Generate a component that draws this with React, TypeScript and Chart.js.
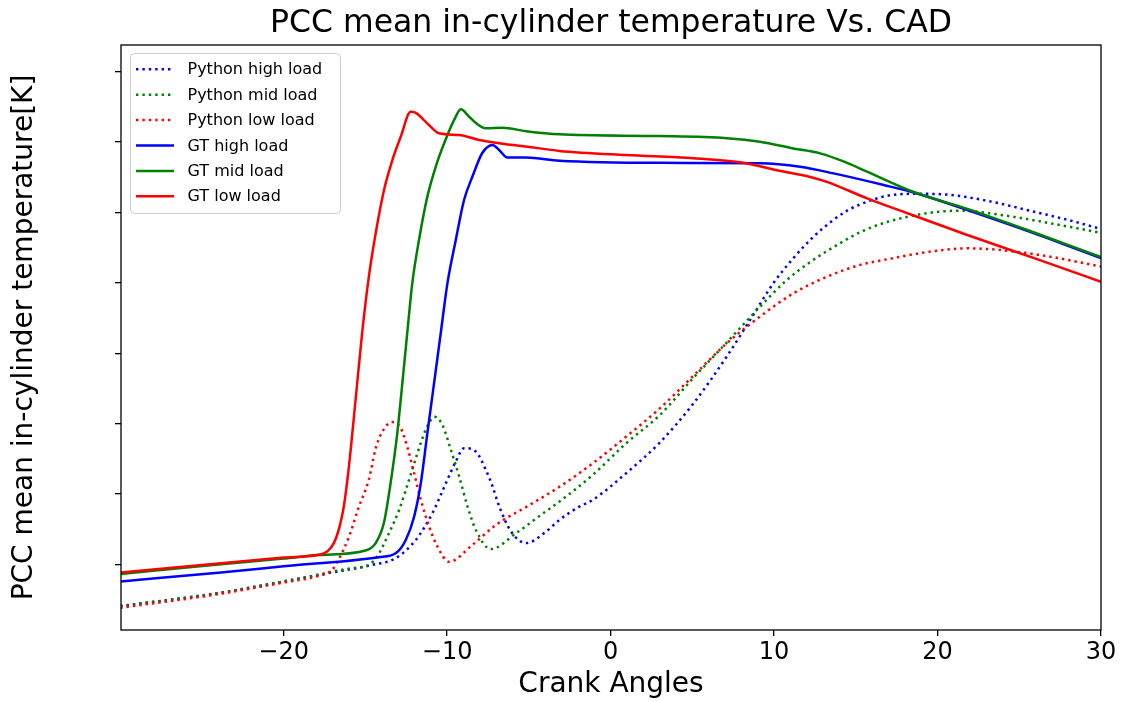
import React, { useEffect, useRef } from 'react';
import { Chart, registerables } from 'chart.js';

Chart.register(...registerables);

const FONT = "'DejaVu Sans', 'Liberation Sans', sans-serif";

const chartTitle = 'PCC mean in-cylinder temperature Vs. CAD';
const xTitle = 'Crank Angles';
const yTitle = 'PCC mean in-cylinder temperature[K]';

const xTicks = [-20, -10, 0, 10, 20, 30];
const yTicks = [800, 1000, 1200, 1400, 1600, 1800, 2000, 2200];

const seriesLabels = [
  'Python high load',
  'Python mid load',
  'Python low load',
  'GT high load',
  'GT mid load',
  'GT low load',
];

// Python high load
const pyHighX = [-30, -24, -20, -17.85, -14.58, -13.15, -11.92, -10.9, -10.08, -9.47, -8.96, -8.24, -7.63, -7.22, -6.81, -6.09, -5.17, -3.94, -3.13, -2.01, -1.09, 0.96, 3.01, 5.05, 7.1, 8.73, 9.96, 11.18, 12.41, 13.64, 14.5, 15.28, 16.09, 17.12, 18.75, 20.18, 22.84, 25.91, 27.96, 30];
const pyHighY = [681, 718, 751, 770, 798, 817, 869, 945, 1030, 1092, 1130, 1120, 1068, 1021, 964, 893, 860, 893, 926, 961, 983, 1059, 1146, 1256, 1390, 1509, 1599, 1670, 1731, 1779, 1806, 1823, 1837, 1849, 1853, 1852, 1835, 1802, 1779, 1753];

// Python mid load
const pyMidX = [-30, -24, -20, -17.85, -17.03, -15.8, -14.79, -14.28, -13.56, -12.94, -12.33, -11.82, -11.31, -10.77, -10.29, -9.77, -9.26, -8.75, -8.24, -7.32, -5.79, -4.15, -3.13, -1.09, 0.96, 3.01, 5.05, 7.1, 9.14, 10.78, 12.21, 14.05, 15.28, 16.71, 19.37, 21.41, 23.87, 26.93, 30];
const pyMidY = [681, 718, 751, 770, 779, 789, 798, 822, 888, 954, 1040, 1115, 1182, 1219, 1196, 1125, 1049, 964, 897, 843, 888, 944, 978, 1054, 1144, 1224, 1329, 1430, 1532, 1608, 1659, 1713, 1744, 1770, 1798, 1805, 1793, 1769, 1742];

// Python low load
const pyLowX = [-30, -24, -20, -17.85, -17.03, -16.63, -16.01, -15.4, -14.79, -14.36, -13.86, -13.35, -12.84, -12.44, -12.02, -11.61, -11.1, -10.6, -9.88, -8.45, -7.01, -4.97, -3.13, -1.09, 0.96, 3.01, 5.05, 7.1, 9.14, 11.18, 13.23, 15.28, 16.71, 19.77, 21.82, 23.87, 26.93, 30];
const pyLowY = [676, 715, 748, 767, 784, 814, 877, 963, 1040, 1131, 1185, 1204, 1187, 1134, 1059, 983, 907, 851, 807, 855, 912, 968, 1020, 1087, 1163, 1243, 1335, 1428, 1504, 1570, 1617, 1651, 1665, 1690, 1698, 1693, 1674, 1646];

// GT high load
const gtHighX = [-30, -24, -20, -14.17, -13.15, -12.53, -12.02, -11.61, -11.21, -10.8, -10.39, -9.98, -9.47, -8.96, -8.45, -7.85, -7.22, -6.81, -6.32, -5.17, -3.13, 3.01, 9.14, 11.6, 13.64, 16.71, 18.75, 21.82, 25.91, 30];
const gtHighY = [751, 776, 794, 820, 831, 869, 935, 1030, 1172, 1314, 1457, 1599, 1722, 1836, 1902, 1969, 1992, 1977, 1956, 1956, 1947, 1941, 1940, 1930, 1911, 1878, 1854, 1807, 1741, 1670];

// GT mid load
const gtMidX = [-30, -24, -20, -17.85, -14.99, -14.37, -13.87, -13.46, -13.05, -12.74, -12.44, -12.13, -11.72, -11.21, -10.6, -9.98, -9.57, -9.16, -8.65, -8.24, -7.63, -6.63, -5.17, -3.13, 3.01, 7.1, 9.14, 11.18, 12.82, 14.25, 15.69, 18.55, 21.82, 25.91, 30];
const gtMidY = [772, 799, 816, 826, 839, 860, 917, 1030, 1172, 1314, 1457, 1599, 1722, 1845, 1944, 2020, 2063, 2093, 2072, 2054, 2039, 2041, 2031, 2022, 2017, 2011, 2001, 1982, 1968, 1945, 1916, 1858, 1810, 1743, 1673];

// GT low load
const gtLowX = [-30, -24, -20, -17.65, -17.34, -16.93, -16.58, -16.32, -16.01, -15.6, -15.2, -14.79, -14.37, -13.86, -13.35, -12.84, -12.23, -11.92, -11.1, -10.49, -9.26, -8.04, -6.81, -4.97, -3.13, 0.96, 5.05, 8.12, 10.17, 12.21, 13.23, 15.69, 18.14, 21.82, 25.91, 30];
const gtLowY = [776, 802, 819, 829, 836, 860, 907, 964, 1077, 1267, 1457, 1617, 1741, 1864, 1949, 2015, 2086, 2083, 2048, 2025, 2020, 2006, 1997, 1986, 1975, 1963, 1954, 1941, 1920, 1901, 1887, 1840, 1798, 1736, 1670, 1603];

const X_MIN = -29.95;
const X_MAX = 30;
const Y_MIN = 613;
const Y_MAX = 2276;

const BLUE = '#0000ff';
const GREEN = '#008000';
const RED = '#ff0000';
const DOTS = [2.4, 4.0];

function pts(xs: number[], ys: number[]) {
  return xs.map((x, i) => ({ x, y: ys[i] }));
}

function fmtTick(v: number) {
  return v < 0 ? '\u2212' + Math.abs(v) : String(v);
}

const framePlugin = {
  id: 'mplFrame',
  afterDatasetsDraw(chart: any) {
    const { ctx, chartArea } = chart;
    const { left, top, right, bottom } = chartArea;
    ctx.save();
    ctx.strokeStyle = '#000';
    ctx.lineWidth = 1.3;
    ctx.strokeRect(left, top, right - left, bottom - top);
    ctx.restore();
  },
};

const legendPlugin = {
  id: 'mplLegend',
  afterDraw(chart: any) {
    const { ctx, chartArea } = chart;
    const x0 = chartArea.left + 9.5;
    const y0 = chartArea.top + 8.5;
    const w = 210;
    const h = 160;
    ctx.save();
    ctx.beginPath();
    if (ctx.roundRect) ctx.roundRect(x0, y0, w, h, 4);
    else ctx.rect(x0, y0, w, h);
    ctx.fillStyle = 'rgba(255,255,255,0.8)';
    ctx.fill();
    ctx.strokeStyle = '#cccccc';
    ctx.lineWidth = 1;
    ctx.stroke();
    chart.data.datasets.forEach((ds: any, i: number) => {
      const y = y0 + 15.8 + 25.4 * i;
      ctx.beginPath();
      ctx.setLineDash(ds.borderDash || []);
      ctx.lineCap = 'butt';
      ctx.strokeStyle = ds.borderColor;
      ctx.lineWidth = ds.borderWidth;
      ctx.moveTo(x0 + 5.5, y);
      ctx.lineTo(x0 + 43.5, y);
      ctx.stroke();
      ctx.setLineDash([]);
      ctx.fillStyle = '#000';
      ctx.font = `16px ${FONT}`;
      ctx.textBaseline = 'middle';
      ctx.textAlign = 'left';
      ctx.fillText(ds.label, x0 + 57, y + 1);
    });
    ctx.restore();
  },
};

export default function App() {
  const ref = useRef<HTMLCanvasElement>(null);

  useEffect(() => {
    if (!ref.current) return;
    const series = [
      { label: seriesLabels[0], data: pts(pyHighX, pyHighY), color: BLUE, dash: DOTS },
      { label: seriesLabels[1], data: pts(pyMidX, pyMidY), color: GREEN, dash: DOTS },
      { label: seriesLabels[2], data: pts(pyLowX, pyLowY), color: RED, dash: DOTS },
      { label: seriesLabels[3], data: pts(gtHighX, gtHighY), color: BLUE, dash: [] as number[] },
      { label: seriesLabels[4], data: pts(gtMidX, gtMidY), color: GREEN, dash: [] as number[] },
      { label: seriesLabels[5], data: pts(gtLowX, gtLowY), color: RED, dash: [] as number[] },
    ];
    const gridOpts = {
      display: true,
      drawOnChartArea: false,
      drawTicks: true,
      tickLength: 6,
      color: '#000',
      lineWidth: 1.3,
    };
    const chart = new Chart(ref.current, {
      type: 'line',
      data: {
        datasets: series.map((s, i) => ({
          label: s.label,
          data: s.data,
          borderColor: s.color,
          backgroundColor: s.color,
          borderWidth: 2.5,
          borderDash: s.dash,
          borderCapStyle: 'butt',
          pointRadius: 0,
          pointHoverRadius: 0,
          fill: false,
          cubicInterpolationMode: 'monotone',
          order: series.length - i,
        })),
      },
      options: {
        animation: false,
        responsive: false,
        devicePixelRatio: 1,
        events: [],
        layout: { padding: { left: 0, right: 22, top: 0, bottom: 0 } },
        plugins: {
          legend: { display: false },
          tooltip: { enabled: false },
          title: {
            display: true,
            text: chartTitle,
            color: '#000',
            fullSize: false,
            font: { family: FONT, size: 31.5, weight: 'normal' },
            padding: { top: 5, bottom: 2.2 },
          },
        },
        scales: {
          x: {
            type: 'linear',
            min: X_MIN,
            max: X_MAX,
            afterBuildTicks: (s: any) => {
              s.ticks = xTicks.map((v) => ({ value: v }));
            },
            afterFit: (s: any) => {
              s.height = 72;
            },
            ticks: {
              color: '#000',
              font: { family: FONT, size: 24 },
              padding: 2,
              maxRotation: 0,
              autoSkip: false,
              callback: (v: any) => fmtTick(Number(v)),
            },
            grid: gridOpts,
            border: { display: false },
            title: {
              display: true,
              text: xTitle,
              color: '#000',
              font: { family: FONT, size: 28 },
              padding: { top: 0, bottom: 0 },
            },
          },
          y: {
            type: 'linear',
            min: Y_MIN,
            max: Y_MAX,
            afterBuildTicks: (s: any) => {
              s.ticks = yTicks.map((v) => ({ value: v }));
            },
            afterFit: (s: any) => {
              s.width = 121;
            },
            ticks: { display: false },
            grid: gridOpts,
            border: { display: false },
            title: {
              display: true,
              text: yTitle,
              color: '#000',
              font: { family: FONT, size: 28 },
              padding: { top: 8, bottom: 0 },
            },
          },
        },
      } as any,
      plugins: [framePlugin, legendPlugin],
    } as any);
    return () => chart.destroy();
  }, []);

  return (
    <div style={{ position: 'absolute', left: 0, top: 0, width: 1123, height: 702, background: '#fff' }}>
      <canvas ref={ref} width={1123} height={702} style={{ display: 'block', width: 1123, height: 702 }} />
    </div>
  );
}
